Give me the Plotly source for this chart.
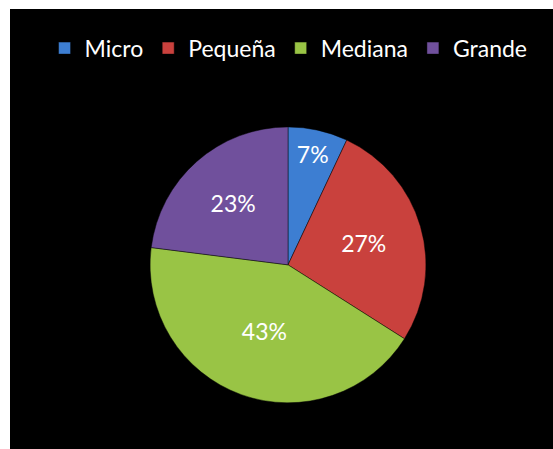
"""
    pie de tamaños de empresa, fondo negro estilo excel
"""

import plotly.graph_objects as go


####~~~~

categorias = ["Micro", "Pequeña", "Mediana", "Grande"]
valores = [7, 27, 43, 23]
colores = ["#3D7ED2", "#C9413D", "#99C445", "#70509C"]


####~~~~


def main() :

    fig = go.Figure()

    fig.add_trace(go.Pie(
        labels=categorias,
        values=valores,
        sort=False,
        direction="clockwise",
        rotation=0,
        marker=dict(colors=colores, line=dict(color="rgba(0,0,0,0.45)", width=1)),
        texttemplate="%{percent:.0%}",
        textposition="inside",
        insidetextorientation="horizontal",
        textfont=dict(family="Lato", size=23, color="white"),
        domain=dict(x=[0.258, 0.766], y=[0.105, 0.732]),
        hoverinfo="label+percent",
    ))

    # borde blanco arriba e izquierda, el resto negro
    fig.add_shape(type="rect", xref="paper", yref="paper",
                  x0=-0.05, x1=0, y0=-0.05, y1=1.05,
                  fillcolor="white", line_width=0, layer="below")
    fig.add_shape(type="rect", xref="paper", yref="paper",
                  x0=-0.05, x1=1.05, y0=1, y1=1.05,
                  fillcolor="white", line_width=0, layer="below")

    fig.update_layout(
        width=553,
        height=449,
        paper_bgcolor="black",
        plot_bgcolor="black",
        margin=dict(l=10, r=0, t=9, b=0),
        showlegend=True,
        legend=dict(
            orientation="h",
            x=0.513, xanchor="center",
            y=0.911, yanchor="middle",
            font=dict(family="Lato", size=23, color="white"),
            bgcolor="rgba(0,0,0,0)",
            itemclick=False,
        ),
    )

    # sin margen del body, la figura ocupa toda la ventana
    fig.write_html("out.html",
                   config={"displayModeBar": False},
                   post_script="document.body.style.margin='0';"
                               "document.body.style.overflow='hidden';"
                               "document.documentElement.style.background='black';"
                               "document.body.style.background='black';")


####~~~~


if __name__ == '__main__' :
    main()
